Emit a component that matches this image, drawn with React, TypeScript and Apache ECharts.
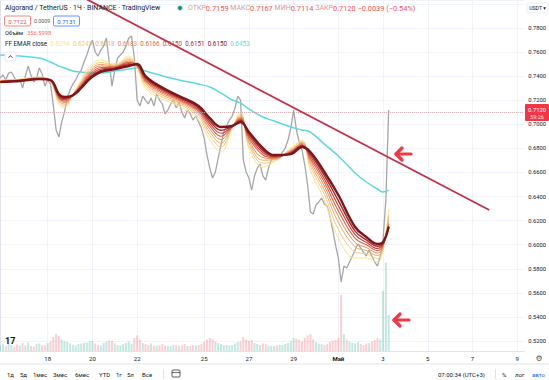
import React, { useEffect, useRef } from 'react';
import * as echarts from 'echarts';

// ---- data (3-hour steps, index 0 = 15 Apr 21:00) ----
const closes = [
  0.7385, 0.7410, 0.7368, 0.7426, 0.7435, 0.7393, 0.7351, 0.7376, 0.7302, 0.7401,
  0.7484, 0.7410, 0.7351, 0.7385, 0.7468, 0.7418, 0.7318, 0.7368, 0.7335, 0.7160,
  0.6953, 0.6895, 0.7019, 0.7102, 0.7219, 0.7285, 0.7335, 0.7368, 0.7418, 0.7451,
  0.7518, 0.7576, 0.7650, 0.7700, 0.7601, 0.7567, 0.7617, 0.7650, 0.7717, 0.7518,
  0.7318, 0.7451, 0.7551, 0.7576, 0.7601, 0.7650, 0.7717, 0.7734, 0.7551, 0.7202,
  0.7152, 0.7235, 0.7202, 0.7169, 0.7219, 0.7152, 0.7252, 0.7202, 0.7169, 0.7086,
  0.7119, 0.7169, 0.7202, 0.7135, 0.7185, 0.7102, 0.7052, 0.7119, 0.7086, 0.7036,
  0.7069, 0.7019, 0.6969, 0.6886, 0.6745, 0.6637, 0.6554, 0.6604, 0.6720, 0.6828,
  0.6936, 0.6986, 0.7036, 0.7069, 0.7135, 0.7235, 0.7202, 0.6704, 0.6604, 0.6554,
  0.6454, 0.6571, 0.6637, 0.6670, 0.6571, 0.6537, 0.6637, 0.6704, 0.6737, 0.6704,
  0.6720, 0.6770, 0.6803, 0.6870, 0.6969, 0.7119, 0.6953, 0.6853, 0.6787, 0.6662,
  0.6496, 0.6272, 0.6255, 0.6330, 0.6355, 0.6388, 0.6338, 0.6321, 0.6238, 0.6122,
  0.5997, 0.5889, 0.5690, 0.5823, 0.5806, 0.5856, 0.5906, 0.5956, 0.6006, 0.5972,
  0.5939, 0.5906, 0.5956, 0.5906, 0.5856, 0.5823, 0.5906, 0.6039, 0.6371, 0.7120,
];

const volumes = [
  55, 70, 50, 75, 60, 45, 65, 55, 80, 55, 85, 50, 45, 70, 75, 55, 60, 80,
  95, 140, 170, 150, 115, 95, 90, 75,
  60, 55, 70, 75, 80, 85, 95, 100, 75, 60, 55, 80, 95, 105, 100, 75, 60, 55, 70, 80, 95, 75,
  130, 155, 115, 80, 70, 60, 75, 55, 50, 60, 70, 55, 50, 50, 60, 60, 50, 55, 70, 50, 50, 60, 55, 60, 70,
  95, 115, 130, 120, 95, 80, 70, 60, 60, 55, 60, 75, 90, 95,
  140, 115, 100, 110, 80, 70, 60, 75, 70, 55, 50, 50, 55, 60, 60, 70, 80, 100,
  130, 120, 110, 95, 130, 155, 170, 115, 90, 75, 70, 60, 70, 90, 100, 110, 130,
  560, 170, 115, 95, 80, 75, 90, 70, 60, 75, 80, 95, 110, 130, 115, 600, 880, 360,
];

const ribbonIdx = [0, 7, 14, 18, 21, 23, 26, 29, 32, 36, 41, 46, 49, 52, 57, 64, 71, 75, 79, 83, 86, 89, 94, 98, 104, 108, 111, 116, 121, 127, 131, 135, 137, 139];

const ema1 = [0.7368, 0.7376, 0.7393, 0.7355, 0.7169, 0.7135, 0.7250, 0.7368, 0.7484, 0.7534, 0.7501, 0.7567, 0.7468, 0.7302, 0.7219, 0.7152, 0.7036, 0.6870, 0.6770, 0.6969, 0.7102, 0.6803, 0.6645, 0.6687, 0.6803, 0.6870, 0.6620, 0.6371, 0.6056, 0.5889, 0.5889, 0.5856, 0.5956, 0.6294];
const ema2 = [0.7365, 0.7373, 0.7390, 0.7358, 0.7186, 0.7153, 0.7248, 0.7355, 0.7462, 0.7514, 0.7493, 0.7550, 0.7475, 0.7322, 0.7239, 0.7169, 0.7059, 0.6906, 0.6812, 0.6972, 0.7085, 0.6830, 0.6677, 0.6699, 0.6793, 0.6858, 0.6650, 0.6418, 0.6127, 0.5941, 0.5924, 0.5886, 0.5969, 0.6245];
const ema3 = [0.7362, 0.7370, 0.7387, 0.7360, 0.7199, 0.7168, 0.7247, 0.7344, 0.7445, 0.7498, 0.7486, 0.7537, 0.7480, 0.7338, 0.7255, 0.7182, 0.7078, 0.6936, 0.6845, 0.6975, 0.7072, 0.6851, 0.6702, 0.6708, 0.6785, 0.6849, 0.6674, 0.6455, 0.6185, 0.5982, 0.5952, 0.5910, 0.5980, 0.6218];
const ema4 = [0.7360, 0.7368, 0.7385, 0.7362, 0.7211, 0.7181, 0.7245, 0.7335, 0.7430, 0.7485, 0.7480, 0.7526, 0.7485, 0.7352, 0.7269, 0.7194, 0.7094, 0.6961, 0.6874, 0.6978, 0.7060, 0.6870, 0.6724, 0.6716, 0.6778, 0.6841, 0.6695, 0.6488, 0.6235, 0.6018, 0.5977, 0.5931, 0.5989, 0.6183];
const ema5 = [0.7357, 0.7366, 0.7382, 0.7364, 0.7221, 0.7193, 0.7244, 0.7326, 0.7416, 0.7472, 0.7475, 0.7515, 0.7489, 0.7364, 0.7281, 0.7204, 0.7109, 0.6985, 0.6901, 0.6980, 0.7050, 0.6887, 0.6745, 0.6724, 0.6772, 0.6833, 0.6715, 0.6518, 0.6281, 0.6052, 0.5999, 0.5951, 0.5998, 0.6166];
const ema6 = [0.7355, 0.7364, 0.7380, 0.7366, 0.7231, 0.7204, 0.7243, 0.7319, 0.7403, 0.7460, 0.7470, 0.7505, 0.7493, 0.7376, 0.7293, 0.7214, 0.7123, 0.7007, 0.6926, 0.6982, 0.7040, 0.6903, 0.6764, 0.6731, 0.6766, 0.6826, 0.6733, 0.6546, 0.6324, 0.6083, 0.6020, 0.5969, 0.6006, 0.6150];
const ema7 = [0.7353, 0.7362, 0.7378, 0.7367, 0.7241, 0.7215, 0.7242, 0.7311, 0.7390, 0.7448, 0.7464, 0.7495, 0.7497, 0.7388, 0.7305, 0.7224, 0.7137, 0.7028, 0.6951, 0.6984, 0.7030, 0.6919, 0.6782, 0.6737, 0.6760, 0.6820, 0.6751, 0.6574, 0.6367, 0.6113, 0.6041, 0.5987, 0.6013, 0.6151];
const ema8 = [0.7351, 0.7360, 0.7376, 0.7368, 0.7252, 0.7227, 0.7241, 0.7302, 0.7376, 0.7435, 0.7459, 0.7484, 0.7501, 0.7401, 0.7318, 0.7235, 0.7152, 0.7052, 0.6978, 0.6986, 0.7019, 0.6936, 0.6803, 0.6745, 0.6753, 0.6812, 0.6770, 0.6604, 0.6413, 0.6147, 0.6064, 0.6006, 0.6022, 0.6150];
const emaLong = [0.7576, 0.7567, 0.7551, 0.7518, 0.7484, 0.7468, 0.7443, 0.7435, 0.7426, 0.7426, 0.7443, 0.7459, 0.7468, 0.7443, 0.7410, 0.7368, 0.7335, 0.7310, 0.7260, 0.7202, 0.7177, 0.7127, 0.7061, 0.7028, 0.6978, 0.6953, 0.6936, 0.6836, 0.6737, 0.6596, 0.6521, 0.6463, 0.6438, 0.6453];

const ribbon = [ema1, ema2, ema3, ema4, ema5, ema6, ema7, ema8];
const ribbonLegend = ['0.6294', '0.6245', '0.6218', '0.6183', '0.6166', '0.6150', '0.6151', '0.6150'];
const emaLongLegend = '0.6453';

const trendLine = [[25, 0.8111], [175, 0.6288]];

const dayTickIdx = [17, 33, 49, 73, 89, 105, 121, 137, 153, 169, 185];
const dayTickLabels = ['18', '20', '22', '25', '27', '29', 'Май', '3', '5', '7', '9'];

const lastPrice = 0.712;
const lastPriceLabel = '0.7120';
const countdown = '59:26';

const ohlcLabels = ['ОТКР', 'МАКС', 'МИН', 'ЗАКР'];
const ohlcValues = ['0.7159', '0.7167', '0.7114', '0.7120'];
const changeText = '−0.0039 (−0.54%)';
const bidAsk = ['0.7122', '0.0009', '0.7131'];
const volumeLegend = '356.5998';

const rangeButtons = ['1д', '5д', '1мес', '3мес', '6мес', 'YTD', '1г', '5л', 'Все'];

// ---- styling ----
const FONT = 'Roboto, "Noto Sans", "DejaVu Sans", sans-serif';
const TXT = '#131722';
const ribbonColors = ['#f8e391', '#f4cb7c', '#f0a961', '#e98751', '#dd6447', '#c8453d', '#a62b2f', '#7e1519'];
const ribbonWidths = [1, 1, 1, 1, 1.1, 1.2, 1.5, 2.4];
const CYAN = '#5cd9df';
const rangeBtnX = [7, 20, 33, 53, 75, 99, 116, 127, 142];

function arrow(cx: number, cy: number) {
  return [
    {
      type: 'polyline',
      z: 100,
      shape: { points: [[cx - 1, cy - 6], [cx - 7, cy], [cx - 1, cy + 6]] },
      style: { stroke: '#f23645', lineWidth: 3.2, fill: null, lineCap: 'round', lineJoin: 'round' },
    },
    {
      type: 'line',
      z: 100,
      shape: { x1: cx - 7, y1: cy, x2: cx + 8, y2: cy },
      style: { stroke: '#f23645', lineWidth: 3.2, lineCap: 'round' },
    },
  ];
}

function buildOption() {
  const ohlcRich = ohlcLabels
    .map((l, i) => `{l|${l}}{v|${ohlcValues[i]}}`)
    .join(' ') + ` {v|${changeText}}`;

  const legendRich =
    '{a|FF EMAR close}  ' +
    ribbonLegend.map((v, i) => `{c${i}|${v}}`).join('  ') +
    `  {cy|${emaLongLegend}}`;
  const LF = 6.3;
  const legendStyles: any = { a: { fill: TXT, fontSize: LF, fontFamily: FONT }, cy: { fill: CYAN, fontSize: LF, fontFamily: FONT } };
  ribbonColors.forEach((c, i) => {
    legendStyles['c' + i] = { fill: c, fontSize: LF, fontFamily: FONT };
  });

  const graphics: any[] = [
    { type: 'text', x: 5, y: 8, z: 100, style: { text: 'Algorand / TetherUS · 1Ч · BINANCE · TradingView', fill: TXT, fontSize: 7, fontFamily: FONT, verticalAlign: 'middle' } },
    { type: 'circle', z: 100, shape: { cx: 180, cy: 8, r: 2 }, style: { fill: '#0e8a76', stroke: 'rgba(38,166,154,0.3)', lineWidth: 2 } },
    {
      type: 'text', x: 188, y: 8, z: 100,
      style: {
        text: ohlcRich, verticalAlign: 'middle', fontSize: 7.4, fontFamily: FONT,
        rich: { l: { fill: '#d59a9a', fontSize: 7, fontFamily: FONT }, v: { fill: '#ef5350', fontSize: 7.4, fontFamily: FONT } },
      },
    },
    { type: 'rect', z: 100, shape: { x: 4.5, y: 16, width: 26, height: 10, r: 1.5 }, style: { fill: '#fff', stroke: '#ef5350', lineWidth: 0.7 } },
    { type: 'text', x: 17.5, y: 21, z: 101, style: { text: bidAsk[0], fill: '#ef5350', fontSize: 6, fontFamily: FONT, align: 'center', verticalAlign: 'middle' } },
    { type: 'text', x: 34, y: 21, z: 100, style: { text: bidAsk[1], fill: '#555', fontSize: 5.3, fontFamily: FONT, verticalAlign: 'middle' } },
    { type: 'rect', z: 100, shape: { x: 53.5, y: 16, width: 26, height: 10, r: 1.5 }, style: { fill: '#fff', stroke: '#2962ff', lineWidth: 0.7 } },
    { type: 'text', x: 66.5, y: 21, z: 101, style: { text: bidAsk[2], fill: '#2962ff', fontSize: 6, fontFamily: FONT, align: 'center', verticalAlign: 'middle' } },
    { type: 'text', x: 5, y: 33, z: 100, style: { text: 'Объём', fill: TXT, fontSize: 5.8, fontFamily: FONT, verticalAlign: 'middle' } },
    { type: 'text', x: 27, y: 33, z: 100, style: { text: volumeLegend, fill: '#ef6f6c', fontSize: 5.8, fontFamily: FONT, verticalAlign: 'middle' } },
    { type: 'text', x: 5, y: 43.5, z: 100, style: { text: legendRich, verticalAlign: 'middle', fontSize: LF, fontFamily: FONT, rich: legendStyles } },
    // collapse button
    { type: 'rect', z: 100, shape: { x: 5, y: 52, width: 11, height: 9, r: 2 }, style: { fill: '#fff', stroke: '#e0e3eb', lineWidth: 0.8 } },
    { type: 'polyline', z: 101, shape: { points: [[8.5, 57.8], [10.5, 55.6], [12.5, 57.8]] }, style: { stroke: TXT, lineWidth: 0.8, fill: null } },
    // currency box
    { type: 'rect', z: 100, shape: { x: 527, y: 3, width: 21, height: 10, r: 1.5 }, style: { fill: '#fff', stroke: '#e0e3eb', lineWidth: 0.7 } },
    { type: 'text', x: 537.5, y: 8, z: 101, style: { text: 'USDT ▾', fill: TXT, fontSize: 5.2, fontFamily: FONT, align: 'center', verticalAlign: 'middle' } },
    // last price tag
    { type: 'rect', z: 100, shape: { x: 525, y: 104, width: 24, height: 17, r: 1 }, style: { fill: '#f23645' } },
    { type: 'text', x: 537, y: 109.5, z: 101, style: { text: lastPriceLabel, fill: '#fff', fontSize: 5.8, fontFamily: FONT, align: 'center', verticalAlign: 'middle' } },
    { type: 'text', x: 537, y: 116.5, z: 101, style: { text: countdown, fill: '#ffe1e3', fontSize: 5.6, fontFamily: FONT, align: 'center', verticalAlign: 'middle' } },
    // logo
    { type: 'text', x: 5, y: 341, z: 100, style: { text: '17', fill: TXT, fontSize: 9, fontWeight: 'bold', fontFamily: FONT, verticalAlign: 'middle' } },
    // gear
    { type: 'text', x: 539, y: 358, z: 100, style: { text: '⚙', fill: '#555', fontSize: 8, fontFamily: '"DejaVu Sans", sans-serif', align: 'center', verticalAlign: 'middle' } },
    // bottom toolbar
    { type: 'line', z: 100, shape: { x1: 0, y1: 364, x2: 549, y2: 364 }, style: { stroke: '#e0e3eb', lineWidth: 1 } },
    { type: 'line', z: 100, shape: { x1: 163.5, y1: 369, x2: 163.5, y2: 379 }, style: { stroke: '#e0e3eb', lineWidth: 1 } },
    { type: 'rect', z: 100, shape: { x: 172, y: 370, width: 8, height: 7, r: 1 }, style: { fill: null, stroke: TXT, lineWidth: 0.7 } },
    { type: 'line', z: 100, shape: { x1: 172, y1: 372.5, x2: 180, y2: 372.5 }, style: { stroke: TXT, lineWidth: 0.6 } },
    { type: 'text', x: 438, y: 374, z: 100, style: { text: '07:00:34 (UTC+3)', fill: TXT, fontSize: 6, fontFamily: FONT, verticalAlign: 'middle' } },
    { type: 'line', z: 100, shape: { x1: 495.5, y1: 369, x2: 495.5, y2: 379 }, style: { stroke: '#e0e3eb', lineWidth: 1 } },
    { type: 'text', x: 502, y: 374, z: 100, style: { text: '%', fill: TXT, fontSize: 6, fontFamily: FONT, verticalAlign: 'middle' } },
    { type: 'text', x: 515, y: 374, z: 100, style: { text: 'лог', fill: TXT, fontSize: 6, fontFamily: FONT, verticalAlign: 'middle' } },
    { type: 'text', x: 532, y: 374, z: 100, style: { text: 'авто', fill: '#2962ff', fontSize: 6, fontFamily: FONT, verticalAlign: 'middle' } },
    ...arrow(403, 154),
    ...arrow(401, 320),
  ];
  rangeButtons.forEach((b, i) => {
    graphics.push({ type: 'text', x: rangeBtnX[i], y: 374, z: 100, style: { text: b, fill: TXT, fontSize: 6, fontFamily: FONT, verticalAlign: 'middle' } });
  });

  const series: any[] = [
    {
      type: 'bar',
      name: 'volume',
      xAxisIndex: 0,
      yAxisIndex: 1,
      barWidth: 2,
      z: 1,
      silent: true,
      data: volumes.map((v, i) => ({
        value: [i, v],
        itemStyle: { color: i > 0 && closes[i] < closes[i - 1] ? 'rgba(242,54,69,0.24)' : 'rgba(8,153,129,0.24)' },
      })),
      markLine: {
        silent: true,
        symbol: 'none',
        label: { show: false },
        lineStyle: { color: '#f0f3fa', width: 1, type: 'solid' },
        data: dayTickIdx.map((d) => ({ xAxis: d })),
        z: 0,
      },
    },
    {
      type: 'line',
      name: 'price',
      z: 2,
      silent: true,
      showSymbol: false,
      data: closes.map((v, i) => [i, v]),
      lineStyle: { color: '#a6a6a6', width: 1.3 },
      markLine: {
        silent: true,
        symbol: 'none',
        label: { show: false },
        lineStyle: { color: '#c9a3a8', width: 1, type: 'dotted' },
        data: [{ yAxis: lastPrice }],
      },
    },
    {
      type: 'line',
      name: 'EMA long',
      z: 3,
      silent: true,
      showSymbol: false,
      smooth: 0.4,
      data: ribbonIdx.map((x, j) => [x, emaLong[j]]),
      lineStyle: { color: CYAN, width: 1.5 },
    },
    ...ribbon.map((arr, k) => ({
      type: 'line',
      name: 'EMAR' + (k + 1),
      z: 4,
      silent: true,
      showSymbol: false,
      smooth: 0.4,
      data: ribbonIdx.map((x, j) => [x, arr[j]]),
      lineStyle: { color: ribbonColors[k], width: ribbonWidths[k] },
    })),
    {
      type: 'line',
      name: 'trend',
      z: 6,
      silent: true,
      showSymbol: false,
      data: trendLine,
      lineStyle: { color: '#c52f4b', width: 1.8 },
    },
  ];

  return {
    animation: false,
    backgroundColor: '#ffffff',
    textStyle: { fontFamily: FONT },
    grid: { left: 0, right: 24, top: 0, bottom: 29, containLabel: false },
    xAxis: {
      type: 'value',
      min: 0,
      max: 187.5,
      interval: 1,
      axisLine: { show: true, lineStyle: { color: '#e0e3eb' } },
      axisTick: { show: false },
      splitLine: { show: false },
      axisLabel: {
        fontSize: 6,
        color: TXT,
        margin: 4,
        fontFamily: FONT,
        showMinLabel: false,
        showMaxLabel: false,
        formatter: (v: number) => {
          const r = Math.round(v);
          if (Math.abs(v - r) > 1e-6) return '';
          const k = dayTickIdx.indexOf(r);
          if (k < 0) return '';
          const s = dayTickLabels[k];
          return /\d/.test(s) ? s : '{m|' + s + '}';
        },
        rich: { m: { fontWeight: 'bold', fontSize: 6, color: TXT, fontFamily: FONT } },
      },
    },
    yAxis: [
      {
        type: 'value',
        position: 'right',
        min: 0.5117,
        max: 0.8033,
        splitNumber: 14,
        axisLine: { show: true, lineStyle: { color: '#e0e3eb' } },
        axisTick: { show: false },
        splitLine: { show: true, lineStyle: { color: '#f0f3fa', width: 1 } },
        axisLabel: {
          fontSize: 5.8,
          color: TXT,
          margin: 4,
          fontFamily: FONT,
          showMinLabel: false,
          showMaxLabel: false,
          formatter: (v: number) => (v > 0.79 ? '' : v.toFixed(4)),
        },
      },
      {
        type: 'value',
        min: 0,
        max: 3500,
        show: false,
        splitLine: { show: false },
      },
    ],
    series,
    graphic: { elements: graphics },
  };
}

export default function App() {
  const ref = useRef<HTMLDivElement>(null);
  useEffect(() => {
    if (!ref.current) return;
    const chart = echarts.init(ref.current, null, { renderer: 'svg' });
    chart.setOption(buildOption() as any);
    return () => chart.dispose();
  }, []);
  return <div ref={ref} style={{ position: 'fixed', left: 0, top: 0, width: 549, height: 380, background: '#fff' }} />;
}
